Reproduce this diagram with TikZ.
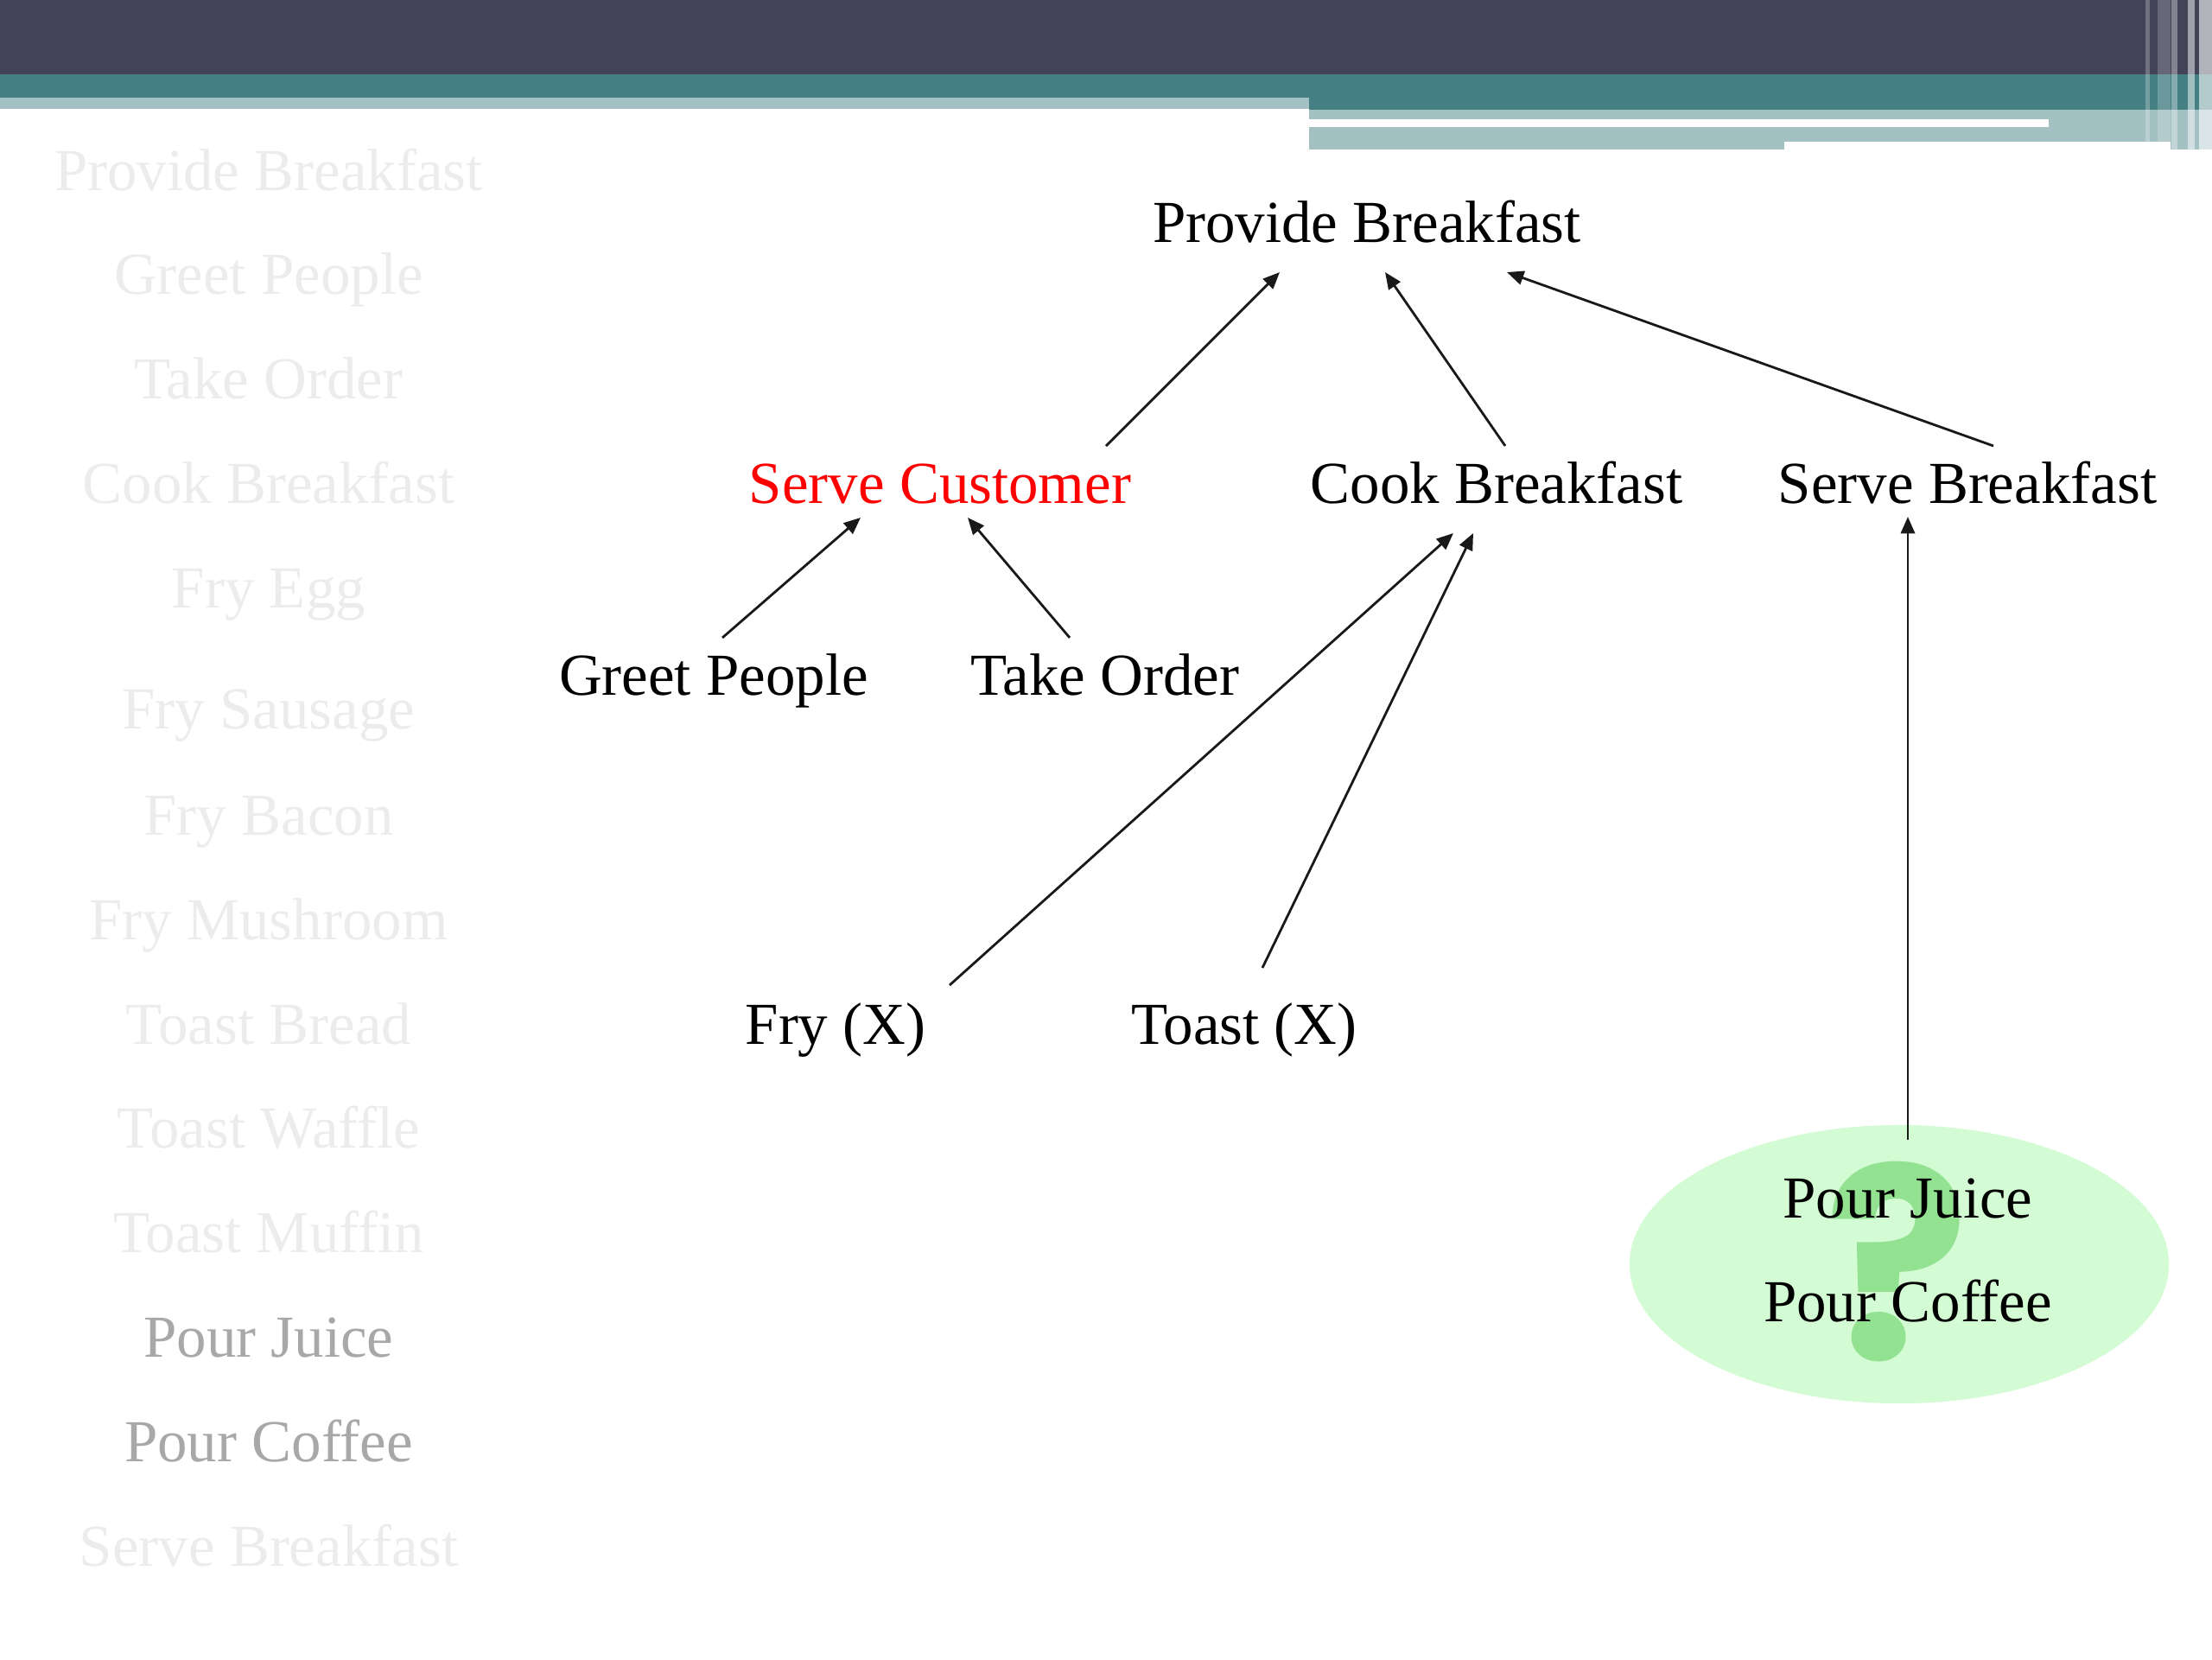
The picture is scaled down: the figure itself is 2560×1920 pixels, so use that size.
\documentclass[tikz,border=0pt]{standalone}
\usepackage{fontspec}
\setmainfont{Liberation Serif}
\newfontfamily\qfont{Poppins}
\usetikzlibrary{arrows.meta,shapes.geometric}
\definecolor{hdark}{HTML}{424356}
\definecolor{hteal}{HTML}{457F84}
\definecolor{hlight}{HTML}{A3C0C3}
\definecolor{faded}{HTML}{ECECEC}
\definecolor{midgrey}{HTML}{A8A8A8}
\definecolor{egreen}{HTML}{D4FCD4}
\definecolor{qgreen}{HTML}{92E292}
\begin{document}
\begin{tikzpicture}[x=0.01cm,y=-0.01cm,
  lbl/.style={font=\fontsize{19.6pt}{23pt}\selectfont, anchor=base, inner sep=0pt},
  side/.style={lbl, text=faded},
  sidedim/.style={lbl, text=midgrey},
  arr/.style={-{Triangle[length=5.5pt,width=4.6pt]}, line width=0.8pt, black!90}]
\useasboundingbox (0,0) rectangle (2560,1920);
% header
\fill[hdark] (0,0) rectangle (2560,86);
\fill[hteal] (0,86) rectangle (1515,113);
\fill[hlight] (0,113) rectangle (1515,126);
\fill[hteal] (1515,86) rectangle (2560,127);
\fill[hlight] (1515,127) rectangle (2560,164);
\fill[hlight] (1515,164) rectangle (2065,173);
\fill[hlight] (2512,164) rectangle (2560,173);
\fill[white] (1515,138) rectangle (2371,147);
\fill[white,opacity=0.25] (2483,0) rectangle (2488,164);
\fill[white,opacity=0.2] (2497,0) rectangle (2512,164);
\fill[white,opacity=0.35] (2513,0) rectangle (2520,173);
\fill[white,opacity=0.5] (2532,0) rectangle (2540,173);
\fill[white,opacity=0.6] (2545,0) rectangle (2560,173);
% left list
\node[side] (l1) at (311,220) {Provide Breakfast};
\node[side] (l2) at (311,340) {Greet People};
\node[side] (l3) at (311,461) {Take Order};
\node[side] (l4) at (311,582) {Cook Breakfast};
\node[side] (l5) at (311,703) {Fry Egg};
\node[side] (l6) at (311,843) {Fry Sausage};
\node[side] (l7) at (311,966) {Fry Bacon};
\node[side] (l8) at (311,1087) {Fry Mushroom};
\node[side] (l9) at (311,1208) {Toast Bread};
\node[side] (l10) at (311,1328) {Toast Waffle};
\node[side] (l11) at (311,1449) {Toast Muffin};
\node[sidedim] (l12) at (311,1570) {Pour Juice};
\node[sidedim] (l13) at (311,1691) {Pour Coffee};
\node[side] (l14) at (311,1812) {Serve Breakfast};
% ellipse
\node[ellipse, fill=egreen, inner sep=0pt, minimum width=6.24cm, minimum height=3.22cm] (pe) at (2198,1463) {};
\node[font=\qfont\bfseries\fontsize{88pt}{88pt}\selectfont, text=qgreen, anchor=base, inner sep=0pt] (q) at (2196,1573) {?};
\node[lbl] (pj) at (2208,1409) {Pour Juice};
\node[lbl] (pc) at (2208,1529) {Pour Coffee};
% tree
\node[lbl] (pb) at (1582,280) {Provide Breakfast};
\node[lbl, text=red] (sc) at (1088,582) {Serve Customer};
\node[lbl] (cb) at (1732,582) {Cook Breakfast};
\node[lbl] (sb) at (2277,582) {Serve Breakfast};
\node[lbl] (gp) at (826,804) {Greet People};
\node[lbl] (to) at (1279,804) {Take Order};
\node[lbl] (fx) at (967,1208) {Fry (X)};
\node[lbl] (tx) at (1440,1208) {Toast (X)};
% connector end points
\coordinate (sc-o) at (1280,516); \coordinate (pb-i1) at (1481,315);
\coordinate (cb-o) at (1742,516); \coordinate (pb-i2) at (1603,315);
\coordinate (sb-o) at (2307,516); \coordinate (pb-i3) at (1744,315);
\coordinate (gp-o) at (836,738);  \coordinate (sc-i1) at (996,599);
\coordinate (to-o) at (1238,738); \coordinate (sc-i2) at (1120,599);
\coordinate (fx-o) at (1099,1140); \coordinate (cb-i1) at (1682,617);
\coordinate (tx-o) at (1461,1120); \coordinate (cb-i2) at (1705,617);
\coordinate (pe-o) at (2208,1319); \coordinate (sb-i) at (2208,598);
\draw[arr] (sc-o) -- (pb-i1);
\draw[arr] (cb-o) -- (pb-i2);
\draw[arr] (sb-o) -- (pb-i3);
\draw[arr] (gp-o) -- (sc-i1);
\draw[arr] (to-o) -- (sc-i2);
\draw[arr] (fx-o) -- (cb-i1);
\draw[arr] (tx-o) -- (cb-i2);
\draw[arr] (pe-o) -- (sb-i);
\end{tikzpicture}
\end{document}
